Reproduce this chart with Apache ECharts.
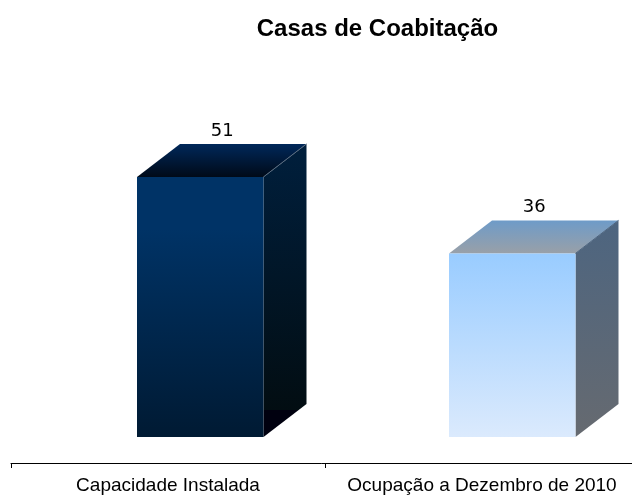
<!DOCTYPE html>
<html>
<head>
<meta charset="utf-8">
<style>html,body{margin:0;padding:0;background:#fff}#c{width:632px;height:495px}</style>
<script src="https://cdn.jsdelivr.net/npm/echarts@6/dist/echarts.min.js"></script>
</head>
<body>
<div id="c"></div>
<script>
const chartTitle = 'Casas de Coabitação';
const categories = ['Capacidade Instalada', 'Ocupação a Dezembro de 2010'];
const values = [51, 36];

const barShift = [-31, -33];
const faces = [
  { front: [[0, '#003366'], [0.2, '#003366'], [1, '#001a33']], top: [[0, '#00285a'], [1, '#000a18']],
    side: [[0, '#001f3d'], [0.908, '#020d12'], [0.908, '#00000f'], [1, '#00000f']], edge: '#5a6c80' },
  { front: [[0, '#99ccff'], [1, '#dbeafd']], top: [[0, '#6e9bc8'], [1, '#99a0a8']],
    side: [[0, '#4d6580'], [1, '#666a70']], edge: '#4d6580' }
];
const vGrad = (c) => new echarts.graphic.LinearGradient(0, 0, 0, 1,
  c.map(s => ({ offset: s[0], color: s[1] })));

const chart = echarts.init(document.getElementById('c'), null, { renderer: 'canvas' });
chart.setOption({
  animation: false,
  backgroundColor: '#fff',
  title: {
    text: chartTitle, left: 372.5, top: 12, textAlign: 'center',
    textStyle: { fontFamily: 'Liberation Sans', fontWeight: 'bold', fontSize: 24, color: '#000' }
  },
  grid: { left: 11, top: 29, width: 628, height: 408, outerBoundsMode: 'none' },
  xAxis: {
    type: 'category', data: categories, offset: 26,
    axisLine: { onZero: false, lineStyle: { color: '#000', width: 1 } },
    axisTick: { show: true, length: 5, alignWithLabel: false, lineStyle: { color: '#000' } },
    axisLabel: { interval: 0, margin: 13, hideOverlap: false, fontFamily: 'Liberation Sans', fontSize: 19, color: '#000' }
  },
  yAxis: { type: 'value', min: 0, max: 80, show: false, splitLine: { show: false } },
  series: [{
    type: 'custom',
    clip: false,
    data: values.map((v, i) => [i, v]),
    encode: { x: 0, y: 1 },
    renderItem(params, api) {
      const i = api.value(0);
      const v = api.value(1);
      const top = api.coord([i, v]);
      const base = api.coord([i, 0]);
      const w = 126.5, dx = 43, dy = 33;
      const x0 = top[0] + barShift[i], x1 = x0 + w;
      const yT = top[1], yB = base[1];
      const f = faces[i];
      return {
        type: 'group',
        children: [
          { type: 'polygon', shape: { points: [[x0, yT], [x1, yT], [x1 + dx, yT - dy], [x0 + dx, yT - dy]] },
            style: { fill: vGrad(f.top) } },
          { type: 'polygon', shape: { points: [[x1, yT], [x1 + dx, yT - dy], [x1 + dx, yB - dy], [x1, yB]] },
            style: { fill: vGrad(f.side) } },
          { type: 'rect', shape: { x: x0, y: yT, width: w, height: yB - yT },
            style: { fill: vGrad(f.front) } },
          { type: 'line', shape: { x1: x1, y1: yT, x2: x1 + dx, y2: yT - dy },
            style: { stroke: f.edge, lineWidth: 1 } },
          { type: 'text', x: x0 + (w + dx) / 2 + 0.5, y: yT - dy - 4,
            style: { text: String(v), fill: '#000', font: '18px "DejaVu Sans"', textAlign: 'center', textVerticalAlign: 'bottom' } }
        ]
      };
    }
  }]
});
</script>
</body>
</html>
